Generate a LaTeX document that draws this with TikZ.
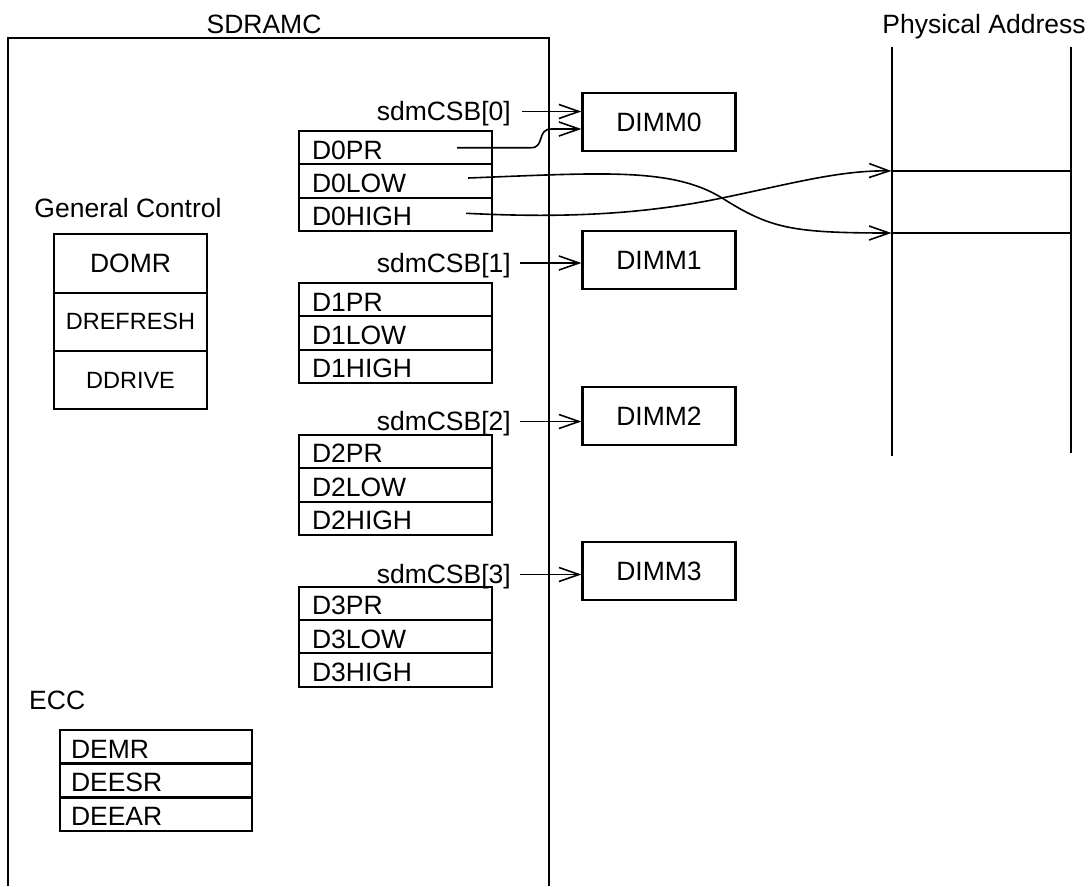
\documentclass[tikz,border=0pt]{standalone}
\usepackage{fontspec}
\setmainfont{Liberation Sans}
\usetikzlibrary{arrows.meta,calc}
\begin{document}
\begin{tikzpicture}[x=1pt,y=-1pt,
  every node/.style={font=\fontsize{26.5}{30}\selectfont},
  frame/.style={line width=2pt},
  reg/.style={draw, line width=2.2pt, text width=167pt, inner xsep=13pt, inner ysep=0pt,
    align=left, minimum height=33.3pt, text height=22.6pt, text depth=0pt},
  ecc/.style={reg, text width=170pt, inner xsep=11pt},
  gcrow/.style={draw, line width=2.2pt, minimum width=152.4pt, minimum height=58.3pt, inner sep=0pt},
  dimm/.style={draw, line width=2.2pt, minimum width=153pt, minimum height=58pt, inner sep=0pt},
  sdm/.style={anchor=east, inner sep=0pt, text height=18.6pt, text depth=0pt},
  lbl/.style={inner sep=0pt, text height=18.6pt, text depth=0pt},
  conn/.style={line width=1.6pt, -{Straight Barb[length=20pt,width=14pt]}}
]
\useasboundingbox (0,0) rectangle (1089,886);

% SDRAMC frame
\node[lbl] (sdramc) at (264,24) {SDRAMC};
\draw[frame] (8,886) -- (8,38) -- (549,38) -- (549,886);

% Physical address
\node[lbl] (phys) at (984,24) {Physical Address};
\draw[frame] (891.5,46.7) -- (891.5,456);
\draw[frame] (1070.7,46.7) -- (1070.7,453);
\draw[frame] (891.5,171) -- (1070.7,171);
\draw[frame] (891.5,233) -- (1070.7,233);
\coordinate (pa1) at (891.5,171);
\coordinate (pa2) at (891.5,233);

% General control
\node[lbl] (gctitle) at (128,208) {General Control};
\node[gcrow] (domr) at (130.5,263.5) {DOMR};
\node[gcrow, font=\fontsize{23.5}{28}\selectfont] (drefresh) at (130.5,321.8) {DREFRESH};
\node[gcrow, font=\fontsize{23.5}{28}\selectfont] (ddrive) at (130.5,380.2) {DDRIVE};

% ECC
\node[lbl, anchor=west] (ecctitle) at (29,700) {ECC};
\node[ecc] (demr) at (156,746.8) {DEMR};
\node[ecc] (deesr) at (156,780.5) {DEESR};
\node[ecc] (deear) at (156,814.2) {DEEAR};

% Register groups
\node[reg] (d0pr) at (395.5,147.7) {D0PR};
\node[reg] (d0low) at (395.5,181) {D0LOW};
\node[reg] (d0high) at (395.5,214.3) {D0HIGH};

\node[reg] (d1pr) at (395.5,299.7) {D1PR};
\node[reg] (d1low) at (395.5,333) {D1LOW};
\node[reg] (d1high) at (395.5,366.4) {D1HIGH};

\node[reg] (d2pr) at (395.5,451.6) {D2PR};
\node[reg] (d2low) at (395.5,485) {D2LOW};
\node[reg] (d2high) at (395.5,518.3) {D2HIGH};

\node[reg] (d3pr) at (395.5,603.3) {D3PR};
\node[reg] (d3low) at (395.5,636.7) {D3LOW};
\node[reg] (d3high) at (395.5,670) {D3HIGH};

% DIMMs
\node[dimm] (dimm0) at (659,122) {DIMM0};
\node[dimm] (dimm1) at (659,260) {DIMM1};
\node[dimm] (dimm2) at (659,416) {DIMM2};
\node[dimm] (dimm3) at (659,571) {DIMM3};

% chip selects
\node[sdm] (s0) at (511,111.5) {sdmCSB[0]};
\node[sdm] (s1) at (511,263) {sdmCSB[1]};
\node[sdm] (s2) at (511,421.5) {sdmCSB[2]};
\node[sdm] (s3) at (511,574.5) {sdmCSB[3]};

\draw[conn] ($(s0.east)+(11,0)$) -- (s0.east -| dimm0.west);
\draw[conn] ($(s1.east)+(9,0)$) -- (s1.east -| dimm1.west);
\draw[conn] ($(s2.east)+(9,0)$) -- (s2.east -| dimm2.west);
\draw[conn] ($(s3.east)+(9,0)$) -- (s3.east -| dimm3.west);

% D0PR -> DIMM0
\draw[conn] ($(d0pr.east)+(-36,0)$) -- ($(d0pr.east)+(38,0)$)
  .. controls ($(d0pr.east)+(52,0)$) and ($(dimm0.west)+(-45,7)$) .. ($(dimm0.west)+(-30,7)$)
  -- ($(dimm0.west)+(0,7)$);

% D0LOW / D0HIGH -> physical address
\coordinate (cross) at (722,198);
\draw[conn] ($(d0low.east)+(-25,-3)$) .. controls (600,173) and (672,167) .. (cross)
  .. controls (770,228) and (790,233) .. (pa2);
\draw[conn] ($(d0high.east)+(-27,-1)$) .. controls (560,218) and (640,215) .. (cross)
  .. controls (790,184) and (840,170) .. (pa1);
\end{tikzpicture}
\end{document}
